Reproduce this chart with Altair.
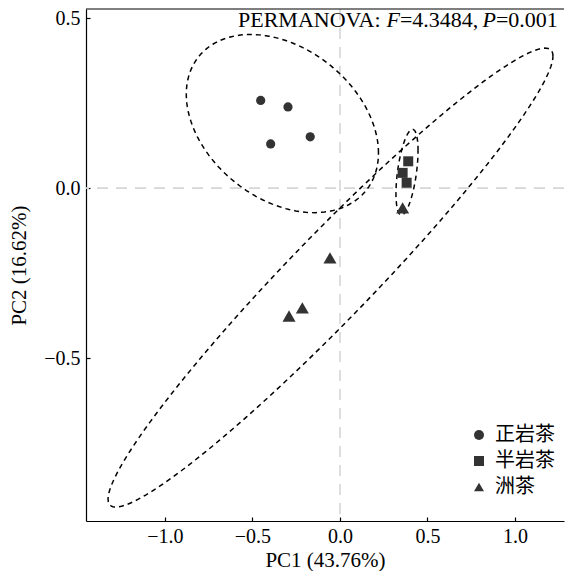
import altair as alt
import numpy as np
import pandas as pd

# ---- data ----
groups = ["正岩茶", "半岩茶", "洲茶"]
shapes = ["circle", "square", "triangle-up"]
zheng_x = [-0.453, -0.297, -0.396, -0.170]
zheng_y = [0.258, 0.239, 0.130, 0.151]
ban_x = [0.390, 0.358, 0.381]
ban_y = [0.079, 0.045, 0.016]
zhou_x = [0.358, -0.057, -0.215, -0.291]
zhou_y = [-0.058, -0.205, -0.352, -0.376]

# confidence ellipses: centre, half-width (x), half-height (y), correlation
ell_cx = [-0.329, 0.383, -0.054]
ell_cy = [0.190, 0.047, -0.263]
ell_wx = [0.549, 0.063, 1.271]
ell_hy = [0.262, 0.126, 0.675]
ell_rho = [-0.33, 0.5, 0.965]

x_ticks = [-1.0, -0.5, 0.0, 0.5, 1.0]
y_ticks = [-0.5, 0.0, 0.5]
x_domain = [-1.451, 1.280]
y_domain = [-0.979, 0.527]

ann_parts = ["PERMANOVA: ", "F", "=4.3484, ", "P", "=0.001"]
ann_italic = [False, True, False, True, False]
ann_em = [6.75, 0.611, 3.75, 0.611, 2.814]  # advance widths (em)

# ---- tables ----
pts = pd.DataFrame({
    "x": zheng_x + ban_x + zhou_x,
    "y": zheng_y + ban_y + zhou_y,
    "g": [groups[0]] * len(zheng_x) + [groups[1]] * len(ban_x) + [groups[2]] * len(zhou_x),
})

t = np.linspace(0, 2 * np.pi, 181)
rows = []
for g, cx, cy, wx, hy, r in zip(groups, ell_cx, ell_cy, ell_wx, ell_hy, ell_rho):
    ex = cx + wx * np.cos(t)
    ey = cy + hy * (r * np.cos(t) + np.sqrt(1 - r * r) * np.sin(t))
    for i, (a, b) in enumerate(zip(ex, ey)):
        rows.append({"g": g, "i": i, "x": a, "y": b})
ell = pd.DataFrame(rows)

W, H = 478, 512
FS = 22
x0 = 152
starts = []
acc = 0.0
for w in ann_em:
    starts.append(x0 + acc * FS)
    acc += w
ann = pd.DataFrame({"txt": ann_parts, "it": ann_italic, "px": starts})

FONT = "Liberation Serif"
xs = alt.Scale(domain=x_domain, nice=False, zero=False)
ys = alt.Scale(domain=y_domain, nice=False, zero=False)

zero = pd.DataFrame({"v": [0.0]})
vrule = alt.Chart(zero).mark_rule(color="#d6d6d6", strokeDash=[11, 8], strokeWidth=1.6).encode(
    x=alt.X("v:Q", scale=xs, axis=alt.Axis(values=x_ticks, format=".1f", title="PC1 (43.76%)"))
)
hrule = alt.Chart(zero).mark_rule(color="#d6d6d6", strokeDash=[11, 8], strokeWidth=1.6).encode(
    y=alt.Y("v:Q", scale=ys, axis=alt.Axis(values=y_ticks, format=".1f", title="PC2 (16.62%)"))
)

ellipses = alt.Chart(ell).mark_line(color="black", strokeDash=[5, 4], strokeWidth=1.5).encode(
    x=alt.X("x:Q", scale=xs),
    y=alt.Y("y:Q", scale=ys),
    detail="g:N",
    order="i:Q",
)

shape_enc = alt.Shape(
    "g:N", scale=alt.Scale(domain=groups, range=shapes),
    legend=alt.Legend(title=None, orient="none", legendX=383, legendY=416,
                      labelFont="Noto Sans CJK SC", labelFontSize=20,
                      labelColor="black", labelOffset=6, rowPadding=6,
                      symbolFillColor="#333333", symbolStrokeColor="#333333",
                      symbolStrokeWidth=0, symbolSize=100),
)

sizes = [85, 100, 170]
point_layers = []
for g, s in zip(groups, sizes):
    point_layers.append(
        alt.Chart(pts).transform_filter(alt.datum.g == g)
        .mark_point(filled=True, opacity=1, color="#333333", size=s)
        .encode(x=alt.X("x:Q", scale=xs), y=alt.Y("y:Q", scale=ys), shape=shape_enc)
    )

txt_norm = alt.Chart(ann).transform_filter("!datum.it").mark_text(
    font=FONT, fontSize=FS, align="left", baseline="alphabetic", color="black"
).encode(x=alt.X("px:Q", scale=None), y=alt.value(18), text="txt:N")
txt_it = alt.Chart(ann).transform_filter("datum.it").mark_text(
    font=FONT, fontSize=FS, fontStyle="italic", align="left", baseline="alphabetic", color="black"
).encode(x=alt.X("px:Q", scale=None), y=alt.value(18), text="txt:N")

top_line = alt.Chart(zero).mark_rule(color="black", strokeWidth=1.2).encode(
    y=alt.value(0), x=alt.value(0), x2=alt.value(W)
)

chart = alt.layer(vrule, hrule, ellipses, *point_layers, txt_norm, txt_it, top_line).properties(
    width=W, height=H,
    autosize=alt.AutoSizeParams(type="none"),
    padding={"left": 78, "top": 1, "right": 1, "bottom": 50},
).configure_view(stroke=None).configure_axis(
    grid=False, domainColor="black", domainWidth=1.2, tickColor="black", tickWidth=1.2,
    tickSize={"expr": "-4"}, labelFont=FONT, labelFontSize=20, labelColor="black",
    titleFont=FONT, titleFontSize=21, titleColor="black", titleFontWeight="normal",
    labelPadding=10,
).configure_axisX(titlePadding=3, labelPadding=9).configure_axisY(titlePadding=14)

chart.save("out.html", embed_options={"renderer": "svg", "actions": False})
